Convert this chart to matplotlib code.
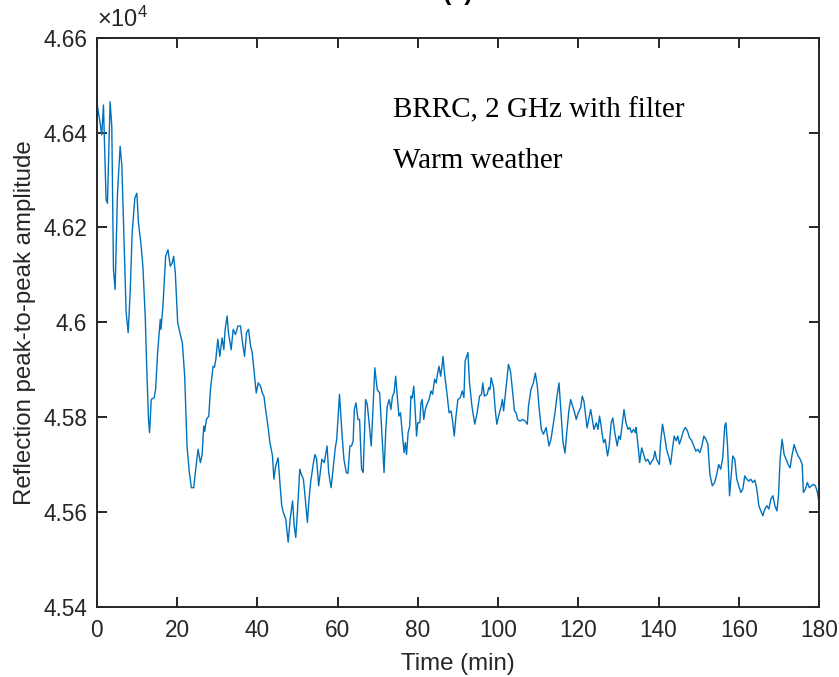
import numpy as np
import matplotlib
matplotlib.use("Agg")
import matplotlib.pyplot as plt
from matplotlib.ticker import FuncFormatter

# Données (temps en min, amplitude crête à crête)
time_min = [
    0.0, 0.17, 0.67, 1.25, 1.67, 2.33, 2.67, 3.33, 3.75, 4.17, 4.58, 5.17, 5.83, 6.25,
    6.67, 7.33, 7.83, 8.33, 8.83, 9.5, 10.0, 10.4, 11.0, 11.5, 12.08, 12.5, 12.9, 13.17,
    13.58, 14.33, 14.67, 15.17, 15.83, 16.0, 16.5, 17.17, 17.75, 18.33, 18.8, 19.17, 19.58,
    20.17, 20.83, 21.33, 21.92, 22.5, 23.08, 23.58, 24.17, 24.67, 25.25, 25.83, 26.25,
    26.67, 26.92, 27.33, 27.92, 28.33, 29.0, 29.33, 29.67, 30.17, 30.67, 31.25, 31.67,
    32.0, 32.5, 32.83, 33.5, 34.0, 34.58, 35.17, 35.83, 36.33, 36.83, 37.33, 37.83, 38.33,
    38.75, 39.17, 39.75, 40.25, 40.83, 41.25, 41.67, 42.08, 42.67, 43.17,
    43.8, 44.15, 44.6, 45.2, 45.7, 46.1, 46.5, 47.1, 47.7, 48.2, 48.8, 49.2, 49.6, 50.0,
    50.6, 51.0, 51.5, 51.9, 52.5, 52.9, 53.3, 54.0, 54.4, 54.8, 55.3, 55.7, 56.1, 56.7,
    57.4, 57.8, 58.4, 58.9, 59.4, 59.8, 60.5, 61.1, 61.6, 62.2, 62.6, 63.1, 63.5, 63.9,
    64.2, 64.6, 65.1, 65.5, 66.0, 66.4, 67.0, 67.4, 67.8, 68.4, 68.8, 69.3, 69.9, 70.5,
    71.0, 71.6, 72.0, 72.4, 72.9, 73.3, 73.7, 74.1, 74.5, 74.9, 75.3, 75.7, 76.2, 76.6,
    76.9, 77.2, 77.6, 78.0, 78.3, 78.6, 79.0, 79.3, 79.7, 80.0, 80.5, 80.8, 81.1, 81.5,
    81.9, 82.3, 82.8, 83.3, 83.7, 84.2, 84.6, 84.9, 85.3, 85.7, 86.0, 86.3, 86.7, 87.3,
    87.8, 88.3,
    88.7, 89.1, 89.5, 90.0, 90.6, 91.1, 91.5, 91.8, 92.5, 92.9, 93.5, 94.2, 94.8, 95.4,
    95.9, 96.2, 96.6, 97.3, 97.7, 98.0, 98.3, 98.9, 99.3, 99.7, 100.2, 100.7, 101.1, 101.4,
    101.7, 102.2, 102.6, 103.1, 103.5, 104.1, 104.5, 104.9, 105.3, 105.7, 106.1, 106.7,
    107.3, 107.6, 108.2, 108.8, 109.3, 109.8, 110.2, 110.8, 111.3, 112.0, 112.7, 113.2,
    113.7, 114.2, 114.7, 115.2, 115.7, 116.2, 116.7, 117.2, 117.7, 118.1, 118.7, 119.1,
    119.5, 120.0, 120.6, 121.0, 121.4, 122.2, 122.6, 123.1, 123.5, 123.9, 124.5, 124.9,
    125.3, 125.7, 125.9, 126.3, 126.7, 127.3, 127.7, 128.2, 128.6, 129.1, 129.7, 130.1,
    130.5, 131.0, 131.4, 131.9, 132.4, 132.8, 133.3, 133.8, 134.2, 134.4, 135.0, 135.3,
    135.8, 136.3, 136.8, 137.3,
    137.9, 138.3, 138.7, 139.1, 139.5, 140.2, 140.5, 141.0, 141.5, 142.0, 142.5, 143.0,
    143.4, 143.9, 144.4, 144.8, 145.2, 145.6, 146.2, 146.7, 147.2, 147.7, 148.3, 148.8,
    149.3, 149.8, 150.3, 150.8, 151.3, 151.8, 152.3, 152.8, 153.4, 154.0, 154.5, 155.0,
    155.5, 156.0, 156.5, 156.8, 157.2, 157.7, 158.1, 158.5, 159.0, 159.5, 160.0, 160.5,
    161.0, 161.5, 162.0, 162.5, 163.0, 163.5, 164.0, 164.5, 165.0, 165.5, 166.0, 166.5,
    167.0, 167.5, 168.0, 168.5, 169.0, 169.5, 169.9, 170.3, 170.8, 171.3, 171.8, 172.3,
    172.8, 173.3, 173.8, 174.3, 174.8, 175.3, 175.8, 176.1, 176.6, 177.1, 177.6, 178.1,
    178.6, 179.1, 179.6, 180.0,
]
amplitude = [
    46521, 46455, 46430, 46395, 46458, 46258, 46251, 46465, 46413, 46111, 46069, 46272, 46371, 46332,
    46209, 46020, 45978, 46062, 46189, 46262, 46272, 46209, 46167, 46118, 46013, 45893, 45795, 45767,
    45837, 45841, 45858, 45936, 46006, 45985, 46034, 46139, 46153, 46118, 46125, 46139, 46104,
    45999, 45974, 45957, 45886, 45739, 45683, 45651, 45651, 45690, 45732, 45704, 45720,
    45781, 45770, 45795, 45802, 45858, 45907, 45905, 45921, 45964, 45928, 45967, 45942,
    45985, 46013, 45978, 45942, 45985, 45974, 45992, 45992, 45957, 45928, 45978, 45985, 45950,
    45936, 45900, 45851, 45872, 45865, 45851, 45844, 45816, 45781, 45746,
    45718, 45669, 45697, 45714, 45655, 45613, 45599, 45585, 45536, 45585, 45623, 45571, 45546, 45599,
    45690, 45679, 45669, 45634, 45578, 45627, 45662, 45704, 45721, 45711, 45655, 45683, 45711, 45704,
    45739, 45683, 45651, 45690, 45732, 45753, 45848, 45767, 45711, 45683, 45681, 45739, 45739, 45750,
    45816, 45830, 45795, 45795, 45690, 45683, 45837, 45827, 45795, 45739, 45809, 45904, 45858, 45851,
    45774, 45683, 45767, 45823, 45837, 45816, 45844, 45851, 45886, 45844, 45802, 45809, 45760, 45725,
    45746, 45721, 45767, 45781, 45844, 45840, 45865, 45823, 45760, 45788, 45788, 45830, 45837, 45795,
    45816, 45827, 45837, 45855, 45848, 45880, 45872, 45890, 45907, 45886, 45904, 45928, 45890, 45848,
    45809, 45813,
    45790, 45760, 45800, 45837, 45841, 45855, 45841, 45918, 45936, 45872, 45823, 45785, 45809, 45844,
    45848, 45872, 45844, 45848, 45862, 45858, 45883, 45862, 45816, 45785, 45804, 45820, 45837, 45813,
    45837, 45879, 45911, 45897, 45865, 45813, 45809, 45795, 45792, 45792, 45795, 45792,
    45785, 45823, 45858, 45872, 45893, 45865, 45823, 45774, 45764, 45778, 45739, 45753,
    45781, 45809, 45844, 45872, 45809, 45746, 45724, 45774, 45816, 45837, 45820, 45809,
    45795, 45809, 45820, 45844, 45834, 45777, 45795, 45816, 45795, 45774, 45788, 45774,
    45802, 45781, 45767, 45746, 45753, 45718, 45739, 45788, 45798, 45767, 45739, 45760,
    45753, 45788, 45816, 45788, 45774, 45778, 45767, 45774, 45767, 45778, 45732, 45704,
    45735, 45721, 45707, 45711,
    45700, 45707, 45711, 45728, 45711, 45700, 45746, 45785, 45760, 45732, 45718, 45700,
    45728, 45760, 45750, 45760, 45743, 45753, 45771, 45778, 45771, 45757, 45750, 45739,
    45728, 45732, 45725, 45739, 45760, 45753, 45743, 45679, 45655, 45662, 45679, 45700,
    45690, 45714, 45781, 45788, 45739, 45634, 45676, 45718, 45711, 45669, 45655, 45641,
    45648, 45676, 45669, 45665, 45669, 45662, 45667, 45648, 45613, 45602, 45592, 45606,
    45613, 45606, 45627, 45634, 45613, 45602, 45634, 45711, 45753, 45721, 45711, 45700,
    45693, 45721, 45742, 45728, 45718, 45711, 45700, 45641, 45648, 45662, 45651, 45655,
    45658, 45655, 45641, 45620,
]

x_ticks = [0, 20, 40, 60, 80, 100, 120, 140, 160, 180]
y_ticks = [45400, 45600, 45800, 46000, 46200, 46400, 46600]

plt.rcParams["font.family"] = ["Liberation Sans", "DejaVu Sans"]
plt.rcParams["mathtext.fontset"] = "custom"
plt.rcParams["mathtext.rm"] = "Liberation Sans"

axis_color = "#262626"

fig = plt.figure(figsize=(8.39, 6.77), dpi=100)
ax = fig.add_axes([0.1153, 0.1038, 0.8609, 0.8405])

ax.plot(time_min, amplitude, color="#0072BD", linewidth=1.0)

ax.set_xlim(0, 180)
ax.set_ylim(45400, 46600)
ax.set_xticks(x_ticks)
ax.set_yticks(y_ticks)
ax.yaxis.set_major_formatter(FuncFormatter(lambda v, p: f"{v / 1e4:g}"))

for s in ax.spines.values():
    s.set_linewidth(1.4)
    s.set_color(axis_color)
ax.tick_params(direction="in", length=7, width=1.4, colors=axis_color,
               labelsize=16.3, top=True, right=True)
ax.tick_params(axis="x", pad=9)
ax.tick_params(axis="y", pad=7)
for lab in ax.get_xticklabels() + ax.get_yticklabels():
    lab.set_color(axis_color)

ax.set_xlabel("Time (min)", fontsize=17.3, color=axis_color, labelpad=8)
ax.set_ylabel("Reflection peak-to-peak amplitude", fontsize=17.3, color=axis_color, labelpad=5)

# multiplicateur façon MATLAB
ax.text(0.0, 1.01, r"$\times\mathregular{10^{4}}$", transform=ax.transAxes,
        fontsize=17, color=axis_color, ha="left", va="bottom")

ax.set_title("(a)", fontsize=18, fontweight="bold", pad=27, color="black")

ax.text(73.9, 46433, "BRRC, 2 GHz with filter", family=["Liberation Serif"],
        fontsize=21, color="black", ha="left", va="baseline")
ax.text(73.9, 46326, "Warm weather", family=["Liberation Serif"],
        fontsize=21, color="black", ha="left", va="baseline")

fig.savefig("out.png", dpi=100)
